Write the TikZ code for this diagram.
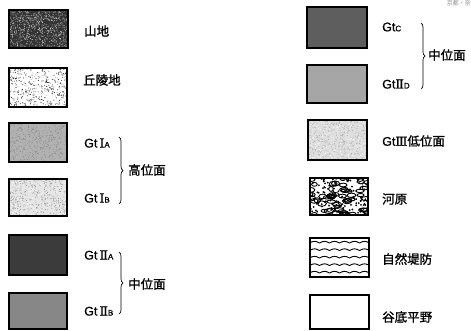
\documentclass[tikz,border=0pt]{standalone}
\usepackage{fontspec}
\setmainfont[FakeBold=1]{Liberation Sans}
\newfontfamily\cjk[FakeBold=1.2]{Noto Sans CJK JP}
\newfontfamily\cjkthin{Noto Sans CJK JP}
\newfontfamily\romfont[FakeBold=1]{DejaVu Serif}
\usetikzlibrary{decorations.pathreplacing}
% stipple relative to the node centre: width, height, count, colour, radius
\newcommand{\stip}[5]{%
  \foreach \i in {1,...,#3}{%
    \pgfmathsetmacro\rx{(rnd-0.5)*#1}%
    \pgfmathsetmacro\ry{(rnd-0.5)*#2}%
    \fill[#4] (\rx,\ry) circle (#5);}}
\newcommand{\sub}[1]{{\fontsize{8}{8}\selectfont #1}}
\begin{document}
\begin{tikzpicture}[x=1pt,y=-1pt,
  box/.style={draw=black,line width=2.4pt,inner sep=0pt,outer sep=0pt},
  lab/.style={anchor=west,inner sep=0pt,font=\cjk\fontsize{12.5}{12.5}\selectfont},
  gt/.style={anchor=west,inner sep=0pt,font=\fontsize{12.5}{12.5}\selectfont},
  brc/.style={decorate,decoration={brace,amplitude=4pt},line width=0.7pt}]
\pgfmathsetseed{11}
\useasboundingbox (0,0) rectangle (471,330);
% left column
\node[box,fill=black!80,minimum width=59pt,minimum height=38pt,
  path picture={\stip{59}{38}{550}{white!80!black}{0.45pt}\stip{59}{38}{300}{black!50}{0.5pt}}] (s1) at (38.5,29) {};
\node[box,fill=white,minimum width=58pt,minimum height=39pt,
  path picture={\stip{58}{39}{230}{black!80}{0.55pt}\stip{58}{39}{220}{black!45}{0.45pt}}] (s2) at (38,87.5) {};
\node[box,fill=black!30,minimum width=58pt,minimum height=39pt,
  path picture={\stip{58}{39}{500}{black!50}{0.4pt}\stip{58}{39}{300}{white!70!black}{0.4pt}}] (s3) at (38,142.5) {};
\node[box,fill=black!10,minimum width=58pt,minimum height=37pt,
  path picture={\stip{58}{37}{380}{black!45}{0.45pt}\stip{58}{37}{200}{white}{0.45pt}}] (s4) at (38,197.5) {};
\node[box,fill=black!77,minimum width=58pt,minimum height=40pt] (s5) at (38,255) {};
\node[box,fill=black!47,minimum width=58pt,minimum height=36pt] (s6) at (38,311) {};
% right column
\node[box,fill=black!63,minimum width=60pt,minimum height=41pt] (r1) at (337,27.5) {};
\node[box,fill=black!35,minimum width=60pt,minimum height=38pt] (r2) at (337,84) {};
\node[box,fill=black!13,minimum width=59pt,minimum height=40pt,
  path picture={\stip{59}{40}{400}{black!35}{0.45pt}\stip{59}{40}{250}{white}{0.45pt}}] (r3) at (337.5,140) {};
\node[box,fill=white,minimum width=58pt,minimum height=37pt,
  path picture={%
    \foreach \i in {1,...,55}{%
      \pgfmathsetmacro\rx{(rnd-0.5)*58}\pgfmathsetmacro\ry{(rnd-0.5)*37}%
      \pgfmathsetmacro\ra{180*rnd}\pgfmathsetmacro\aa{2.2+2.6*rnd}\pgfmathsetmacro\bb{1.3+1.4*rnd}%
      \draw[line width=0.9pt,rotate around={\ra:(\rx,\ry)}] (\rx,\ry) ellipse (\aa pt and \bb pt);}
    \stip{58}{37}{130}{black}{1pt}}] (r4) at (339,196.5) {};
\node[box,fill=white,minimum width=59pt,minimum height=39pt,
  path picture={%
    \foreach \yy in {-14.5,-7,0.5,8,15.5}{%
      \draw[line width=0.9pt] plot[domain=-31:31,samples=120,smooth] (\x,{\yy-1.6*abs(sin((\x+30)*18))});}}] (r5) at (339.5,257.5) {};
\node[box,fill=white,minimum width=59pt,minimum height=34pt] (r6) at (339.5,312) {};
% labels left
\node[lab] (t1) at (84,31) {山地};
\node[lab] (t2) at (83,80) {丘陵地};
\node[gt] (t3) at (84,143) {Gt\,{\romfont I}\sub{A}};
\node[gt] (t4) at (84,198) {Gt\,{\romfont I}\sub{B}};
\node[gt] (t5) at (84,255) {Gt\,{\romfont Ⅱ}\sub{A}};
\node[gt] (t6) at (84,311) {Gt\,{\romfont Ⅱ}\sub{B}};
\coordinate (ba1) at (119,137); \coordinate (bb1) at (119,204);
\draw[brc] (ba1) -- (bb1);
\node[lab] (k1) at (128,170) {高位面};
\coordinate (ba2) at (119,252); \coordinate (bb2) at (119,314);
\draw[brc] (ba2) -- (bb2);
\node[lab] (k2) at (128,284) {中位面};
% labels right
\node[gt] (u1) at (382,27) {Gt\sub{C}};
\node[gt] (u2) at (382,84) {Gt{\romfont Ⅱ}\sub{D}};
\coordinate (ba3) at (421,23); \coordinate (bb3) at (421,89);
\draw[brc] (ba3) -- (bb3);
\node[lab] (k3) at (428,55) {中位面};
\node[gt] (u3) at (382,141) {Gt{\romfont Ⅲ}{\cjk 低位面}};
\node[lab] (u4) at (382,199) {河原};
\node[lab] (u5) at (382,259) {自然堤防};
\node[lab] (u6) at (382,317) {谷底平野};
\node[anchor=north east,inner sep=0pt,text=black!45,font=\cjkthin\fontsize{6}{6}\selectfont] (src) at (471,0) {京都・奈};
\end{tikzpicture}
\end{document}
